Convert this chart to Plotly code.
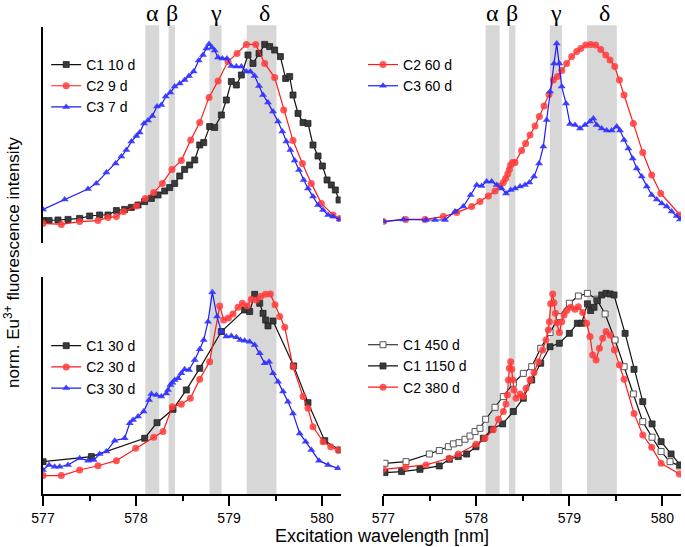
import plotly.graph_objects as go

# ---------------- data (wavelength nm, normalised intensity) ----------------
TL_C1_10d = [(577.000,0.112),(577.065,0.112),(577.161,0.115),(577.269,0.118),(577.394,0.123),(577.502,0.135),
             (577.609,0.140),(577.699,0.140),(577.789,0.162),(577.878,0.168),(577.950,0.178),(578.022,0.190),
             (578.093,0.207),(578.165,0.223),(578.237,0.240),(578.308,0.260),(578.362,0.277),(578.416,0.298),
             (578.470,0.335),(578.523,0.368),(578.577,0.390),(578.631,0.415),(578.685,0.490),(578.728,0.502),
             (578.792,0.582),(578.846,0.578),(578.918,0.640),(578.971,0.715),(579.025,0.807),(579.079,0.790),
             (579.133,0.840),(579.204,0.940),(579.258,0.898),(579.323,0.948),(579.384,0.993),(579.437,0.982),
             (579.491,0.965),(579.552,0.932),(579.609,0.823),(579.652,0.832),(579.688,0.740),(579.742,0.648),
             (579.796,0.602),(579.849,0.598),(579.903,0.490),(579.957,0.435),(580.004,0.385),(580.054,0.315),
             (580.100,0.290),(580.143,0.265),(580.183,0.215)]
TL_C2_9d = [(577.000,0.098),(577.197,0.093),(577.394,0.107),(577.591,0.112),(577.699,0.128),(577.789,0.132),
            (577.867,0.157),(578.004,0.185),(578.100,0.223),(578.190,0.252),(578.283,0.298),(578.387,0.368),
            (578.487,0.412),(578.588,0.515),(578.685,0.602),(578.785,0.728),(578.882,0.810),(578.989,0.907),
            (579.086,0.948),(579.186,0.993),(579.287,0.993),(579.384,0.898),(579.491,0.827),(579.588,0.665),
            (579.688,0.512),(579.789,0.398),(579.885,0.298),(579.993,0.198),(580.118,0.140),(580.190,0.123)]
TL_C3_7d = [(577.000,0.168),(577.233,0.218),(577.484,0.270),(577.573,0.298),(577.681,0.352),(577.781,0.398),
            (577.842,0.432),(577.896,0.465),(577.950,0.507),(578.004,0.535),(578.039,0.552),(578.086,0.598),
            (578.129,0.612),(578.176,0.635),(578.226,0.682),(578.272,0.690),(578.319,0.732),(578.369,0.752),
            (578.416,0.782),(578.470,0.798),(578.523,0.815),(578.570,0.835),(578.620,0.857),(578.674,0.912),
            (578.720,0.940),(578.756,0.973),(578.785,0.995),(578.817,0.978),(578.846,0.962),(578.882,0.928),
            (578.928,0.923),(578.978,0.923),(579.025,0.885),(579.079,0.882),(579.133,0.882),(579.186,0.857),
            (579.229,0.857),(579.276,0.835),(579.323,0.785),(579.366,0.740),(579.419,0.702),(579.473,0.657),
            (579.527,0.607),(579.573,0.557),(579.616,0.507),(579.659,0.465),(579.706,0.412),(579.753,0.365),
            (579.803,0.315),(579.849,0.273),(579.903,0.232),(579.957,0.190),(580.011,0.165),(580.065,0.140),
            (580.118,0.132),(580.190,0.118)]

TR_C2_60d = [(577.000,0.107),(577.240,0.118),(577.448,0.118),(577.645,0.132),(577.789,0.152),(577.950,0.182),
             (578.039,0.207),(578.129,0.235),(578.201,0.260),(578.254,0.285),(578.290,0.302),(578.315,0.323),
             (578.337,0.345),(578.355,0.368),(578.369,0.390),(578.391,0.402),(578.416,0.402),(578.487,0.462),
             (578.530,0.498),(578.577,0.540),(578.631,0.585),(578.677,0.632),(578.728,0.685),(578.781,0.743),
             (578.828,0.815),(578.871,0.832),(578.918,0.862),(578.971,0.898),(579.025,0.932),(579.079,0.957),
             (579.122,0.973),(579.176,0.990),(579.229,0.993),(579.283,0.990),(579.337,0.968),(579.391,0.940),
             (579.437,0.915),(579.487,0.882),(579.538,0.815),(579.588,0.740),(579.688,0.598),(579.789,0.452),
             (579.885,0.340),(579.982,0.248),(580.190,0.140)]
TR_C3_60d = [(577.000,0.107),(577.215,0.118),(577.459,0.115),(577.556,0.115),(577.663,0.115),(577.771,0.157),
             (577.860,0.182),(577.939,0.240),(578.004,0.290),(578.057,0.285),(578.111,0.307),(578.165,0.307),
             (578.219,0.290),(578.272,0.273),(578.319,0.248),(578.369,0.265),(578.416,0.273),(578.470,0.282),
             (578.523,0.290),(578.570,0.302),(578.620,0.332),(578.674,0.398),(578.720,0.482),(578.756,0.615),
             (578.792,0.757),(578.835,0.898),(578.864,0.998),(578.892,0.898),(578.918,0.782),(578.964,0.698),
             (579.007,0.595),(579.061,0.590),(579.115,0.573),(579.168,0.590),(579.222,0.607),(579.258,0.623),
             (579.294,0.590),(579.348,0.573),(579.401,0.562),(579.455,0.562),(579.509,0.582),(579.545,0.562),
             (579.588,0.515),(579.634,0.473),(579.681,0.423),(579.724,0.373),(579.778,0.332),(579.832,0.282),
             (579.885,0.240),(579.939,0.218),(579.993,0.198),(580.047,0.182),(580.100,0.157),(580.154,0.135),
             (580.190,0.118)]

BL_C1_30d = [(577.000,0.160),(577.520,0.185),(578.093,0.276),(578.226,0.353),(578.398,0.419),(578.541,0.515),
             (578.685,0.622),(578.918,0.804),(579.168,0.911),(579.222,0.903),(579.276,0.988),(579.330,0.944),
             (579.366,0.894),(579.394,0.861),(579.419,0.832),(579.473,0.856),(579.695,0.634),(579.849,0.452),
             (580.029,0.264),(580.190,0.218)]
BL_C2_30d = [(577.000,0.091),(577.197,0.091),(577.394,0.119),(577.591,0.140),(577.789,0.165),(577.996,0.226),
             (578.190,0.281),(578.290,0.309),(578.391,0.432),(578.487,0.444),(578.584,0.474),(578.685,0.568),
             (578.792,0.655),(578.900,0.931),(578.943,0.861),(578.993,0.871),(579.043,0.891),(579.097,0.924),
             (579.143,0.944),(579.194,0.931),(579.240,0.964),(579.294,0.960),(579.341,0.977),(579.391,0.988),
             (579.444,0.990),(579.495,0.936),(579.545,0.878),(579.599,0.825),(579.688,0.630),(579.796,0.482),
             (579.849,0.424),(579.903,0.333),(580.011,0.259),(580.093,0.234),(580.172,0.218)]
BL_C3_30d = [(577.000,0.119),(577.065,0.144),(577.125,0.135),(577.179,0.135),(577.269,0.144),(577.394,0.177),
             (577.484,0.165),(577.545,0.168),(577.609,0.198),(577.681,0.210),(577.771,0.264),(577.878,0.276),
             (577.932,0.350),(577.968,0.366),(578.022,0.383),(578.082,0.408),(578.140,0.465),(578.165,0.495),
             (578.219,0.490),(578.272,0.482),(578.326,0.498),(578.344,0.515),(578.369,0.540),(578.391,0.551),
             (578.416,0.564),(578.452,0.573),(578.487,0.597),(578.523,0.617),(578.570,0.614),(578.631,0.663),
             (578.685,0.716),(578.728,0.762),(578.774,0.853),(578.821,0.998),(578.871,0.878),(578.918,0.804),
             (578.971,0.779),(579.025,0.782),(579.079,0.776),(579.122,0.762),(579.168,0.759),(579.222,0.754),
             (579.276,0.738),(579.330,0.696),(579.384,0.647),(579.430,0.655),(579.473,0.597),(579.527,0.556),
             (579.581,0.507),(579.634,0.457),(579.688,0.399),(579.760,0.300),(579.824,0.259),(579.885,0.218),
             (579.968,0.165),(580.065,0.144),(580.172,0.127)]

BR_C1_450d = [(577.018,0.152),(577.244,0.160),(577.495,0.198),(577.602,0.215),(577.699,0.234),(577.753,0.248),
              (577.814,0.254),(577.878,0.271),(577.932,0.287),(577.986,0.309),(578.039,0.325),(578.100,0.370),
              (578.201,0.429),(578.290,0.482),(578.398,0.548),(578.505,0.597),(578.595,0.630),(578.692,0.721),
              (578.792,0.799),(578.892,0.878),(579.000,0.944),(579.097,0.980),(579.194,0.993),(579.294,0.964),
              (579.384,0.891),(579.491,0.762),(579.588,0.630),(579.688,0.495),(579.789,0.358),(579.889,0.281),
              (579.986,0.210),(580.082,0.160),(580.183,0.139)]
BR_C1_1150d = [(577.018,0.106),(577.197,0.111),(577.394,0.122),(577.602,0.139),(577.710,0.172),(577.806,0.185),
               (577.896,0.198),(577.996,0.234),(578.075,0.276),(578.165,0.320),(578.283,0.347),(578.398,0.408),
               (578.505,0.474),(578.595,0.564),(578.692,0.647),(578.792,0.729),(578.892,0.746),(579.000,0.795),
               (579.086,0.845),(579.133,0.845),(579.194,0.941),(579.229,0.908),(579.265,0.924),(579.301,0.957),
               (579.348,0.985),(579.394,0.993),(579.437,0.990),(579.480,0.985),(579.599,0.795),(579.695,0.617),
               (579.789,0.457),(579.889,0.347),(579.986,0.259),(580.093,0.198),(580.190,0.144)]
BR_C2_380d = [(577.000,0.122),(577.240,0.132),(577.459,0.144),(577.710,0.177),(577.806,0.198),(577.996,0.246),
              (578.093,0.276),(578.183,0.318),(578.237,0.370),(578.290,0.408),(578.319,0.446),(578.333,0.490),
              (578.344,0.564),(578.355,0.622),(578.369,0.655),(578.380,0.617),(578.391,0.564),(578.405,0.515),
              (578.427,0.474),(578.470,0.495),(578.505,0.482),(578.534,0.523),(578.577,0.564),(578.620,0.601),
              (578.667,0.655),(578.713,0.713),(578.749,0.762),(578.774,0.812),(578.785,0.853),(578.799,0.941),
              (578.821,0.990),(578.835,0.947),(578.850,0.894),(578.864,0.848),(578.893,0.799),(578.918,0.853),
              (578.943,0.886),(578.971,0.908),(579.014,0.924),(579.061,0.914),(579.097,0.927),(579.143,0.898),
              (579.186,0.845),(579.222,0.779),(579.251,0.688),(579.287,0.663),(579.323,0.721),(579.358,0.771),
              (579.394,0.804),(579.437,0.787),(579.484,0.713),(579.538,0.639),(579.588,0.568),(579.695,0.399),
              (579.789,0.292),(579.885,0.231),(579.986,0.152),(580.183,0.099)]

BAND_NAMES = ["α", "β", "γ", "δ"]
BAND_START = [578.10, 578.35, 578.79, 579.19]
BAND_END = [578.25, 578.42, 578.92, 579.51]
BAND_LABEL_X = [578.175, 578.385, 578.855, 579.38]

X_TICKS = [577, 578, 579, 580]
X_RANGE = [577, 580.2]

# ---------------- styles ----------------
FONT = "Liberation Sans, Arial, sans-serif"
BLACK_LINE = "#111111"
RED_LINE = "#ff1a1a"
BLUE_LINE = "#1a1aff"
STYLE = {
    "sq": dict(line=BLACK_LINE, marker=dict(symbol="square", size=6, color="#3a3a3a",
                                            line=dict(color="#222222", width=0.8))),
    "osq": dict(line=BLACK_LINE, marker=dict(symbol="square", size=6, color="white",
                                             line=dict(color="#555555", width=1))),
    "ci": dict(line=RED_LINE, marker=dict(symbol="circle", size=7, color="rgba(255,60,60,0.85)",
                                          line=dict(width=0))),
    "tr": dict(line=BLUE_LINE, marker=dict(symbol="triangle-up", size=7, color="rgba(50,50,255,0.9)",
                                           line=dict(width=0))),
}

fig = go.Figure()

def add(data, name, style, xa, ya, legend):
    st = STYLE[style]
    fig.add_trace(go.Scatter(
        x=[p[0] for p in data], y=[p[1] for p in data], name=name, mode="lines+markers",
        line=dict(color=st["line"], width=1.2), marker=st["marker"],
        xaxis=xa, yaxis=ya, legend=legend))

add(TL_C1_10d, "C1 10 d", "sq", "x", "y", "legend")
add(TL_C2_9d, "C2 9 d", "ci", "x", "y", "legend")
add(TL_C3_7d, "C3 7 d", "tr", "x", "y", "legend")
add(TR_C2_60d, "C2 60 d", "ci", "x2", "y2", "legend2")
add(TR_C3_60d, "C3 60 d", "tr", "x2", "y2", "legend2")
add(BL_C1_30d, "C1 30 d", "sq", "x3", "y3", "legend3")
add(BL_C2_30d, "C2 30 d", "ci", "x3", "y3", "legend3")
add(BL_C3_30d, "C3 30 d", "tr", "x3", "y3", "legend3")
add(BR_C1_450d, "C1 450 d", "osq", "x4", "y4", "legend4")
add(BR_C1_1150d, "C1 1150 d", "sq", "x4", "y4", "legend4")
add(BR_C2_380d, "C2 380 d", "ci", "x4", "y4", "legend4")

# ---------------- layout ----------------
LEFT_DOM = [0.0, 0.4665]
RIGHT_DOM = [0.5334, 1.0]
TOP_DOM = [0.5375, 1.0]
BOT_DOM = [0.0, 0.4647]

hidden_x = dict(range=X_RANGE, visible=False, showgrid=False, zeroline=False)
bottom_x = dict(range=X_RANGE, showgrid=False, zeroline=False, showline=True, linecolor="black",
                linewidth=1.5, ticks="outside", ticklen=10, tickwidth=1.5, tickcolor="black",
                tickvals=X_TICKS, tickfont=dict(family=FONT, size=14, color="black"),
                minor=dict(tickvals=[577.5, 578.5, 579.5], ticks="outside", ticklen=5, tickwidth=1.5,
                           tickcolor="black"))

def yax(dom, rng, line, anchor):
    return dict(domain=dom, range=rng, showgrid=False, zeroline=False, showticklabels=False,
                ticks="", showline=line, linecolor="black", linewidth=1.5, anchor=anchor)

shapes = []
for xr in ["x3", "x4"]:
    for s, e in zip(BAND_START, BAND_END):
        shapes.append(dict(type="rect", xref=xr, yref="paper", x0=s, x1=e, y0=0, y1=1.004,
                           fillcolor="#d7d7d7", line=dict(width=0), layer="below"))

annotations = []
for xr in ["x", "x2"]:
    for nm, xx in zip(BAND_NAMES, BAND_LABEL_X):
        annotations.append(dict(text=nm, xref=xr, yref="paper", x=xx, y=1.030, yanchor="middle",
                                xanchor="center", showarrow=False,
                                font=dict(family="Liberation Serif, Times New Roman, serif", size=24,
                                          color="black")))
annotations.append(dict(text="norm. Eu<sup>3+</sup> fluorescence intensity", xref="paper", yref="paper",
                        x=-0.0486, y=0.497, textangle=-90, showarrow=False, xanchor="center",
                        yanchor="middle", font=dict(family=FONT, size=17, color="black")))
annotations.append(dict(text="Excitation wavelength [nm]", xref="paper", yref="paper",
                        x=0.532, y=-0.0900, showarrow=False, xanchor="center", yanchor="middle",
                        font=dict(family=FONT, size=18, color="black")))

def leg(x, y):
    return dict(x=x, y=y, xanchor="left", yanchor="top", bgcolor="rgba(0,0,0,0)", borderwidth=0,
                font=dict(family=FONT, size=14, color="black"), tracegroupgap=0)

fig.update_layout(
    width=685, height=547, margin=dict(l=43, r=4, t=27, b=53),
    paper_bgcolor="white", plot_bgcolor="white", showlegend=True,
    xaxis=dict(domain=LEFT_DOM, anchor="y", **hidden_x),
    xaxis2=dict(domain=RIGHT_DOM, anchor="y2", **hidden_x),
    xaxis3=dict(domain=LEFT_DOM, anchor="y3", **bottom_x),
    xaxis4=dict(domain=RIGHT_DOM, anchor="y4", **bottom_x),
    yaxis=yax(TOP_DOM, [0, 1.08], True, "x"),
    yaxis2=yax(TOP_DOM, [0, 1.08], False, "x2"),
    yaxis3=yax(BOT_DOM, [0, 1.074], True, "x3"),
    yaxis4=yax(BOT_DOM, [0, 1.074], False, "x4"),
    legend=leg(0.005, 0.953),
    legend2=leg(0.5016, 0.953),
    legend3=leg(0.005, 0.351),
    legend4=leg(0.5016, 0.353),
    shapes=shapes, annotations=annotations,
)

# remove the browser's default 8 px page margin so the figure fills the window
fig.write_html("out.html", config={"displayModeBar": False},
               post_script="document.body.style.margin='0';")
